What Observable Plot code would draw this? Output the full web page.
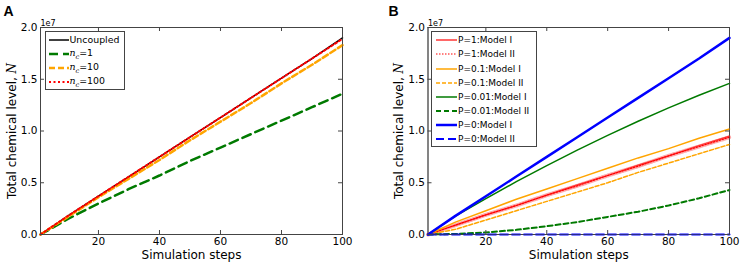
<!DOCTYPE html>
<html><head><meta charset="utf-8">
<script src="https://cdn.jsdelivr.net/npm/d3@7"></script>
<script src="https://cdn.jsdelivr.net/npm/@observablehq/plot@0.6"></script>
<style>
body{margin:0;background:#fff;}
#wrap{position:relative;width:742px;height:264px;overflow:hidden;font-family:"DejaVu Sans";background:#fff;}
.panel{position:absolute;top:0;}
.legend{position:absolute;background:#fff;border:1px solid #444;box-sizing:border-box;}
.legend .row{position:absolute;left:0;height:14px;display:flex;align-items:center;white-space:nowrap;color:#000;}
.legend .row svg{display:block;}
</style></head><body><div id="wrap"></div>
<script>
// ---- data (values in units of 1e7) ----
const steps = [1, 10, 20, 30, 40, 50, 60, 70, 80, 90, 100];
const xTicks = [20, 40, 60, 80, 100];
const yTicks = [0, 0.5, 1.0, 1.5, 2.0];

// Panel A
const aUncoupled = [0.00, 0.18, 0.37, 0.56, 0.75, 0.94, 1.13, 1.32, 1.51, 1.70, 1.90];
const aNc1       = [0.00, 0.15, 0.30, 0.44, 0.57, 0.71, 0.84, 0.97, 1.10, 1.23, 1.36];
const aNc10      = [0.00, 0.17, 0.36, 0.54, 0.72, 0.91, 1.09, 1.27, 1.46, 1.64, 1.83];
const aNc100     = [0.00, 0.18, 0.37, 0.56, 0.75, 0.94, 1.13, 1.32, 1.51, 1.70, 1.89];

// Panel B
const bP1M1   = [0.00, 0.09, 0.19, 0.28, 0.38, 0.48, 0.57, 0.67, 0.76, 0.86, 0.95];
const bP1M2   = [0.00, 0.09, 0.19, 0.28, 0.38, 0.47, 0.57, 0.66, 0.76, 0.85, 0.94];
const bP01M1  = [0.00, 0.12, 0.23, 0.34, 0.44, 0.54, 0.64, 0.74, 0.83, 0.93, 1.02];
const bP01M2  = [0.00, 0.05, 0.14, 0.23, 0.32, 0.41, 0.50, 0.60, 0.69, 0.78, 0.87];
const bP001M1 = [0.00, 0.177, 0.347, 0.51, 0.666, 0.816, 0.958, 1.094, 1.223, 1.345, 1.46];
const bP001M2 = [0.00, 0.005, 0.02, 0.045, 0.08, 0.12, 0.17, 0.22, 0.28, 0.35, 0.43];
const bP0M1   = [0.00, 0.18, 0.37, 0.56, 0.75, 0.94, 1.13, 1.32, 1.51, 1.70, 1.90];
const bP0M2   = [0.00, 0.00, 0.00, 0.00, 0.00, 0.00, 0.00, 0.00, 0.00, 0.00, 0.00];

const labelsA = ["Uncoupled", "n_c=1", "n_c=10", "n_c=100"];
const labelsB = ["P=1:Model I", "P=1:Model II", "P=0.1:Model I", "P=0.1:Model II",
                 "P=0.01:Model I", "P=0.01:Model II", "P=0:Model I", "P=0:Model II"];

// ---- styles ----
const GREEN = "#007a00", ORANGE = "#ffa500", RED = "#ff0000", BLUE = "#0000ff";
const seriesA = [
  {label: labelsA[0], values: aUncoupled, stroke: "#000", width: 1.5, dash: null},
  {label: labelsA[1], values: aNc1, stroke: GREEN, width: 2.5, dash: "9,5"},
  {label: labelsA[2], values: aNc10, stroke: ORANGE, width: 2.5, dash: "6,3"},
  {label: labelsA[3], values: aNc100, stroke: RED, width: 2, dash: "2,2.5"}
];
const seriesB = [
  {label: labelsB[0], values: bP1M1, stroke: RED, width: 1.2, dash: null},
  {label: labelsB[1], values: bP1M2, stroke: RED, width: 1.2, dash: "1.5,1.5", halo: true},
  {label: labelsB[2], values: bP01M1, stroke: ORANGE, width: 1.5, dash: null},
  {label: labelsB[3], values: bP01M2, stroke: ORANGE, width: 1.5, dash: "4,2"},
  {label: labelsB[4], values: bP001M1, stroke: GREEN, width: 1.5, dash: null},
  {label: labelsB[5], values: bP001M2, stroke: GREEN, width: 2, dash: "5,3"},
  {label: labelsB[6], values: bP0M1, stroke: BLUE, width: 2.5, dash: null},
  {label: labelsB[7], values: bP0M2, stroke: BLUE, width: 2, dash: "8,4"}
];

const W = 371, H = 264;
const wrap = document.getElementById("wrap");

function labelHTML(t) {
  if (t.startsWith("n_c")) return '<i style="font-family:\'DejaVu Serif\'">n</i><sub style="font-size:70%;font-family:\'DejaVu Serif\';font-style:italic">c</sub>' + t.slice(3);
  return t;
}

function makePanel({left, marginLeft, marginRight, series, letter, letterX, labelX, legend}) {
  const marginTop = 27, marginBottom = 30;
  const pw = W - marginLeft - marginRight, ph = H - marginTop - marginBottom;
  const marks = [];
  for (const s of series) {
    const data = steps.map((x, i) => ({x, y: s.values[i]}));
    if (s.halo) marks.push(Plot.line(data, {x: "x", y: "y", stroke: "#ff6060", strokeWidth: 4, strokeOpacity: 0.55, strokeDasharray: "1.5,1.5"}));
    marks.push(Plot.line(data, {x: "x", y: "y", stroke: s.stroke, strokeWidth: s.width, strokeDasharray: s.dash}));
  }
  const plot = Plot.plot({
    width: W, height: H, marginLeft, marginRight, marginTop, marginBottom,
    style: {fontFamily: "DejaVu Sans", fontSize: "10.5px", color: "#000", background: "transparent", overflow: "visible"},
    x: {domain: [1, 100]},
    y: {domain: [0, 2]},
    marks: [
      Plot.frame({stroke: "#444"}),
      ...marks,
      Plot.frame({stroke: "#444", strokeOpacity: 0.6}),
      Plot.tickX(xTicks, {x: d => d, insetTop: ph - 4, stroke: "#444"}),
      Plot.tickX(xTicks, {x: d => d, insetBottom: ph - 4, stroke: "#444"}),
      Plot.tickY(yTicks, {y: d => d, insetRight: pw - 4, stroke: "#444"}),
      Plot.tickY(yTicks, {y: d => d, insetLeft: pw - 4, stroke: "#444"}),
      Plot.axisX(xTicks, {tickSize: 0, tickPadding: 3.5, label: null}),
      Plot.axisY(yTicks, {tickSize: 0, tickPadding: 3, tickFormat: d3.format(".1f"), label: null}),
      Plot.text(["Simulation steps"], {frameAnchor: "bottom", dy: 21, lineAnchor: "middle", fontSize: 12}),
      Plot.text(["Total chemical level, N"], {frameAnchor: "left", dx: labelX - marginLeft, rotate: -90, textAnchor: "middle", lineAnchor: "middle", fontSize: 12}),
      Plot.text(["1e7"], {frameAnchor: "top-left", dx: 0, dy: -4.5, textAnchor: "start", lineAnchor: "middle", fontSize: 8}),
      Plot.text([letter], {frameAnchor: "top-left", dx: letterX - marginLeft, dy: -16, textAnchor: "start", lineAnchor: "middle", fontSize: 14, fontWeight: "bold", fontFamily: "Liberation Sans"})
    ]
  });
  // italic N in y label
  d3.select(plot).selectAll("text").filter(function() { return this.textContent === "Total chemical level, N"; })
    .each(function() {
      const t = d3.select(this);
      t.text("Total chemical level, ");
      t.append("tspan").attr("font-family", "DejaVu Serif").attr("font-style", "italic").text("N");
    });
  const holder = document.createElement("div");
  holder.className = "panel";
  holder.style.left = left + "px";
  holder.appendChild(plot);
  wrap.appendChild(holder);

  // legend overlay
  const lg = document.createElement("div");
  lg.className = "legend";
  lg.style.left = legend.x + "px"; lg.style.top = legend.y + "px";
  lg.style.width = legend.w + "px"; lg.style.height = legend.h + "px";
  lg.style.fontSize = legend.font + "px";
  series.forEach((s, i) => {
    const row = document.createElement("div");
    row.className = "row";
    row.style.top = (legend.first + i * legend.step - 7) + "px";
    row.style.left = legend.lineX + "px";
    const sv = d3.create("svg").attr("width", legend.lineW + 1).attr("height", 14);
    sv.append("line").attr("x1", 0).attr("x2", legend.lineW).attr("y1", 7).attr("y2", 7)
      .attr("stroke", s.stroke).attr("stroke-width", s.width).attr("stroke-dasharray", s.dash);
    row.appendChild(sv.node());
    const sp = document.createElement("span");
    sp.innerHTML = labelHTML(s.label);
    row.appendChild(sp);
    lg.appendChild(row);
  });
  wrap.appendChild(lg);
}

makePanel({left: 0, marginLeft: 40, marginRight: 29, series: seriesA, letter: "A", letterX: 3, labelX: 12,
  legend: {x: 45, y: 30.5, w: 79.5, h: 59.5, font: 9.4, first: 8.2, step: 14.2, lineX: 2.5, lineW: 20}});
makePanel({left: 371, marginLeft: 56.5, marginRight: 13, series: seriesB, letter: "B", letterX: 17, labelX: 28,
  legend: {x: 431, y: 30.5, w: 106, h: 116.5, font: 9, first: 8.8, step: 14.15, lineX: 4, lineW: 21}});
</script></body></html>
